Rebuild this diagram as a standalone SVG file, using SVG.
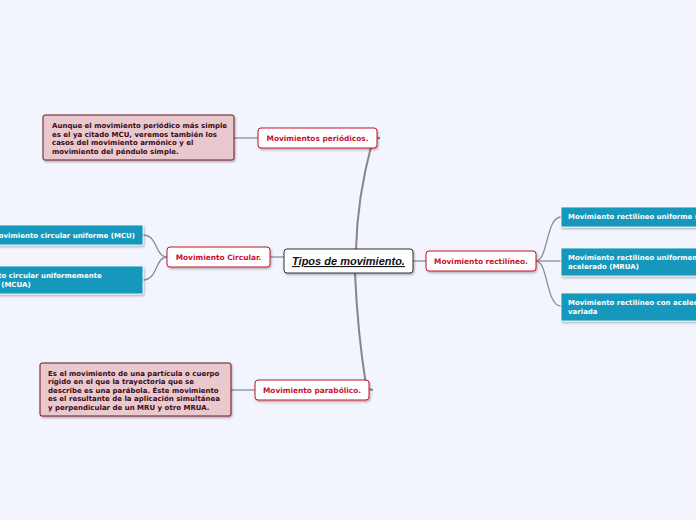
<svg xmlns="http://www.w3.org/2000/svg" width="696" height="520" viewBox="0 0 696 520">
<style>
.lbl{font-family:"DejaVu Sans",Verdana,sans-serif;font-weight:bold;font-size:7.4px}
.red{fill:#c8102e;text-anchor:middle}
.wht{fill:#ffffff;font-size:7px}
.nt{fill:#3a0a16;font-size:7px}
.rbox{fill:#ffffff;stroke:#c8102e;stroke-width:1}
.tbox{fill:#1598bc;stroke:#ffffff;stroke-width:0.8}
.nbox{fill:#e9c9cd;stroke:#6e1026;stroke-width:1}
.con{fill:none;stroke:#8c8c96;stroke-width:1.3}
.main{fill:none;stroke:#85858f;stroke-width:2}
</style>
<defs>
<filter id="sh" x="-10%" y="-20%" width="130%" height="160%">
<feDropShadow dx="1" dy="1.5" stdDeviation="0.8" flood-color="#000" flood-opacity="0.3"/>
</filter>
</defs>
<rect width="696" height="520" fill="#f2f5fe"/>
<g id="connectors">
<path class="main" d="M356,250 C357,205 366,165 372,143 Q374,138 380,138"/>
<path class="main" d="M355,273 C357,320 362,360 366,385 Q368,390 373,390"/>
<path class="con" d="M284,257 L270,257"/>
<path class="con" d="M413,261 L426,261"/>
<path class="con" d="M536,261 L561,261"/>
<path class="con" d="M536,261 C548,261 546,217 561,217"/>
<path class="con" d="M536,261 C548,261 546,306 561,306"/>
<path class="con" d="M167,257 C155,257 158,235 143,235"/>
<path class="con" d="M167,257 C155,257 158,280 143,280"/>
<path class="con" d="M234,138 L258,138"/>
<path class="con" d="M231,390 L255,390"/>
</g>
<g id="central">
<rect x="284" y="249" width="129" height="24" rx="3" fill="#ffffff" stroke="#333" stroke-width="1" filter="url(#sh)"/>
<text x="348.5" y="265" font-family="Liberation Sans,Arial,sans-serif" font-weight="bold" font-style="italic" font-size="11" text-decoration="underline" text-anchor="middle" fill="#111">Tipos de movimiento.</text>
</g>
<g id="periodicos">
<rect class="rbox" x="258" y="128" width="119" height="20" rx="3" filter="url(#sh)"/>
<text class="lbl red" x="317.5" y="141">Movimientos periódicos.</text>
</g>
<g id="circular">
<rect class="rbox" x="167" y="247" width="103" height="20" rx="3" filter="url(#sh)"/>
<text class="lbl red" x="218.5" y="260">Movimiento Circular.</text>
</g>
<g id="rectilineo">
<rect class="rbox" x="426" y="251" width="110" height="20" rx="3" filter="url(#sh)"/>
<text class="lbl red" x="481" y="264">Movimiento rectilíneo.</text>
</g>
<g id="parabolico">
<rect class="rbox" x="255" y="380" width="114" height="20" rx="3" filter="url(#sh)"/>
<text class="lbl red" x="312" y="393">Movimiento parabólico.</text>
</g>
<g id="nota-periodicos">
<rect class="nbox" x="43" y="115" width="191" height="45" rx="2" filter="url(#sh)"/>
<text class="lbl nt" x="52" y="128">Aunque el movimiento periódico más simple</text>
<text class="lbl nt" x="52" y="136.5">es el ya citado MCU, veremos también los</text>
<text class="lbl nt" x="52" y="145">casos del movimiento armónico y el</text>
<text class="lbl nt" x="52" y="153.5">movimiento del péndulo simple.</text>
</g>
<g id="nota-parabolico">
<rect class="nbox" x="40" y="363" width="191" height="53" rx="2" filter="url(#sh)"/>
<text class="lbl nt" x="48" y="375.5">Es el movimiento de una partícula o cuerpo</text>
<text class="lbl nt" x="48" y="384">rígido en el que la trayectoria que se</text>
<text class="lbl nt" x="48" y="392.5">describe es una parábola. Éste movimiento</text>
<text class="lbl nt" x="48" y="401">es el resultante de la aplicación simultánea</text>
<text class="lbl nt" x="48" y="409.5">y perpendicular de un MRU y otro MRUA.</text>
</g>
<g id="mcu">
<rect class="tbox" x="-20" y="225" width="163" height="20" rx="1" filter="url(#sh)"/>
<text class="lbl wht" x="135" y="238" text-anchor="end">Movimiento circular uniforme (MCU)</text>
</g>
<g id="mcua">
<rect class="tbox" x="-50" y="266" width="193" height="28" rx="1" filter="url(#sh)"/>
<text class="lbl wht" x="-40" y="277.5">Movimiento circular uniformemente</text>
<text class="lbl wht" x="-40" y="286.5">acelerado (MCUA)</text>
</g>
<g id="mru">
<rect class="tbox" x="561" y="207" width="160" height="20" rx="1" filter="url(#sh)"/>
<text class="lbl wht" x="568" y="219">Movimiento rectilíneo uniforme (MRU)</text>
</g>
<g id="mrua">
<rect class="tbox" x="561" y="248" width="160" height="28" rx="1" filter="url(#sh)"/>
<text class="lbl wht" x="568" y="260">Movimiento rectilíneo uniformemente</text>
<text class="lbl wht" x="568" y="269">acelerado (MRUA)</text>
</g>
<g id="mrv">
<rect class="tbox" x="561" y="293" width="160" height="28" rx="1" filter="url(#sh)"/>
<text class="lbl wht" x="568" y="305">Movimiento rectilíneo con aceleración</text>
<text class="lbl wht" x="568" y="314">variada</text>
</g>
</svg>
